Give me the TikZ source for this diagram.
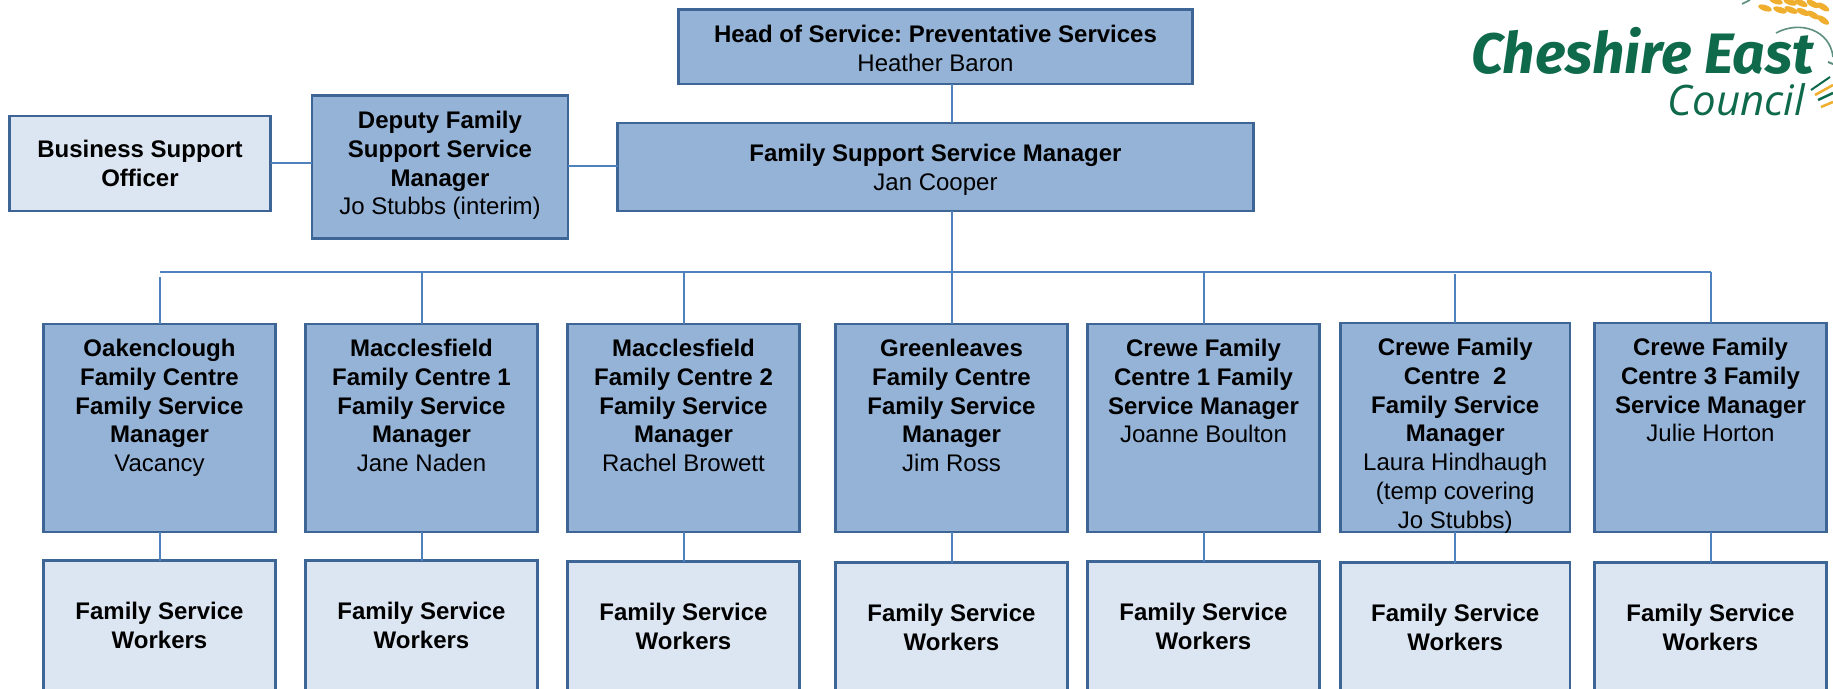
\documentclass[tikz,border=0pt]{standalone}
\usepackage{fontspec}
\setmainfont{Liberation Sans}
\newfontfamily\logofont{Open Sans}
\newfontfamily\logoboldfont{Fira Sans}
\definecolor{boxdark}{HTML}{95B3D7}
\definecolor{boxlight}{HTML}{DCE6F2}
\definecolor{boxedge}{HTML}{3D6596}
\definecolor{wire}{HTML}{4F81BD}
\definecolor{logogreen}{HTML}{0F6A4C}
\definecolor{wheat}{HTML}{F0AE2E}
\definecolor{arcgrey}{HTML}{5E8F80}
\newcommand{\tbox}[4][12]{\parbox[c][#3pt][t]{#2pt}{\centering\vspace*{#1pt}\strut #4\par}}
\AtBeginDocument{\frenchspacing}
\tikzset{
  x=1pt,y=-1pt,
  orgbox/.style={draw=boxedge,line width=2.6pt,inner sep=0pt,outer sep=0pt,anchor=north west,align=center,
    font=\fontsize{24}{28.9}\selectfont,text=black},
  dark/.style={orgbox,fill=boxdark},
  light/.style={orgbox,fill=boxlight},
  wireline/.style={draw=wire,line width=2pt},
}
\begin{document}
\begin{tikzpicture}
\useasboundingbox (0,0) rectangle (1833,688);
\fill[white] (0,0) rectangle (1833,688);

% top
\node[dark] (head) at (678.5,9.5)
  {\tbox[13]{514}{74.5}{\textbf{Head of Service: Preventative Services}\\Heather Baron}};
\node[dark] (fssm) at (617.5,123)
  {\tbox[18]{636}{88}{\textbf{Family Support Service Manager}\\Jan Cooper}};
\node[dark] (deputy) at (312,95.5)
  {\tbox[12.5]{256}{143}{\textbf{Deputy Family}\\\textbf{Support Service}\\\textbf{Manager}\\Jo Stubbs (interim)}};
\node[light,minimum width=261pt,minimum height=95pt] (bso) at (9.5,116)
  {\textbf{Business Support}\\\textbf{Officer}};

% managers
\node[dark] (m1) at (43.5,324) {\tbox{232}{208}{\textbf{Oakenclough}\\\textbf{Family Centre}\\\textbf{Family Service}\\\textbf{Manager}\\Vacancy}};
\node[dark] (m2) at (305.5,324) {\tbox{232}{208}{\textbf{Macclesfield}\\\textbf{Family Centre 1}\\\textbf{Family Service}\\\textbf{Manager}\\Jane Naden}};
\node[dark] (m3) at (567.5,324) {\tbox{232}{208}{\textbf{Macclesfield}\\\textbf{Family Centre 2}\\\textbf{Family Service}\\\textbf{Manager}\\Rachel Browett}};
\node[dark] (m4) at (835.5,324) {\tbox{232}{208}{\textbf{Greenleaves}\\\textbf{Family Centre}\\\textbf{Family Service}\\\textbf{Manager}\\Jim Ross}};
\node[dark] (m5) at (1087.5,324) {\tbox{232}{208}{\textbf{Crewe Family}\\\textbf{Centre 1 Family}\\\textbf{Service Manager}\\Joanne Boulton}};
\node[dark] (m6) at (1340.5,323) {\tbox{229.5}{209}{\textbf{Crewe Family}\\\textbf{Centre\ \ 2}\\\textbf{Family Service}\\\textbf{Manager}\\Laura Hindhaugh\\(temp covering\\Jo Stubbs)}};
\node[dark] (m7) at (1594.5,323) {\tbox{232}{209}{\textbf{Crewe Family}\\\textbf{Centre 3 Family}\\\textbf{Service Manager}\\Julie Horton}};

% workers
\foreach \n/\xx/\yy/\ww in {1/43.5/560.5/232,2/305.5/560.5/232,3/567.5/561.5/232,4/835.5/562.5/232,5/1087.5/561.5/232,6/1340.5/562.5/229.5,7/1594.5/562.5/232}{
  \node[light,minimum width=\ww pt,minimum height=130pt] (w\n) at (\xx,\yy)
    {\textbf{Family Service}\\\textbf{Workers}};
}

% connectors
\coordinate (busL) at (m1.north |- 0,272);
\coordinate (busR) at (m7.north |- 0,272);
\coordinate (gapL) at (m1.north |- 0,277);
\coordinate (gapS) at (m6.north |- 0,274);
\draw[wireline] (head.south -| m4.north) -- (fssm.north -| m4.north);
\draw[wireline] (fssm.south -| m4.north) -- (m4.north);
\draw[wireline] (busL) -- (busR);
\draw[wireline] (gapL) -- (m1.north);
\draw[wireline] (gapS) -- (m6.north);
\foreach \n in {2,3,5,7}{ \draw[wireline] (m\n.north |- busL) -- (m\n.north); }
\foreach \n in {1,...,7}{ \draw[wireline] (m\n.south) -- (m\n.south |- w\n.north); }
\draw[wireline] (bso.east |- 0,163) -- (deputy.west |- 0,163);
\draw[wireline] (deputy.east |- 0,166) -- (fssm.west |- 0,166);

% logo
\node[anchor=base west,inner sep=0pt,text=logogreen,font=\logoboldfont\bfseries\itshape\fontsize{57}{57}\selectfont] (logoa) at (1471,73) {Cheshire East};
\node[anchor=base east,inner sep=0pt,text=logogreen,font=\logofont\itshape\fontsize{42}{42}\selectfont] (logob) at (1805,115) {Council};
\foreach \a/\b/\r in {1765/8/-8,1780/10/-8,1791/10/-12,1803/12/-14,1813/15/-20,1823/20/-25,1776/1/-8,1790/2/-10,1801/3/-15,1813/4/-18,1823/7/-22}{
  \fill[wheat,rotate around={\r+(-10):(\a,\b)}] (\a,\b) ellipse (7pt and 3pt);
}
\draw[arcgrey,line width=1.6pt] (1776,33) .. controls (1800,20) and (1830,30) .. (1833,57);
\draw[arcgrey,line width=1.6pt] (1742,4) -- (1750,0);
\draw[logogreen,line width=2pt] (1811,90) -- (1830,77);
\draw[wheat,line width=2.5pt] (1815,95) -- (1833,85);
\draw[logogreen,line width=2.5pt] (1818,100) -- (1833,93);
\draw[wheat,line width=2.5pt] (1821,107) -- (1833,102);
\draw[arcgrey,line width=2pt] (1828,62) -- (1833,64);
\end{tikzpicture}
\end{document}
